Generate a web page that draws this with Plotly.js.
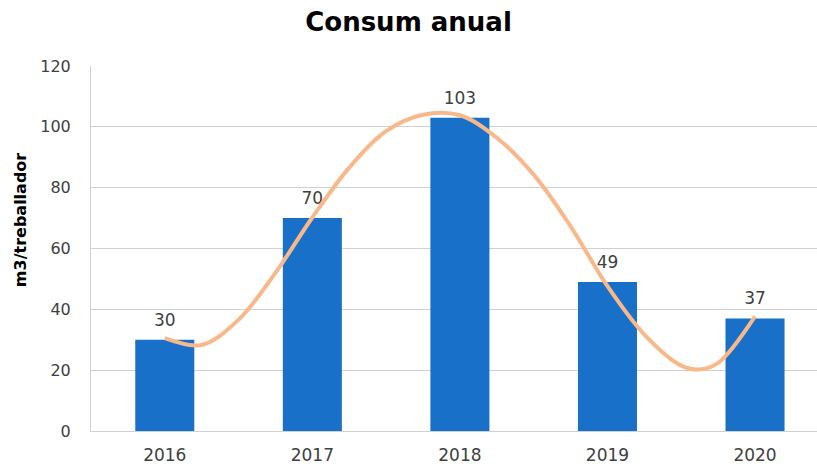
<!DOCTYPE html>
<html>
<head>
<meta charset="utf-8">
<script src="https://cdn.plot.ly/plotly-3.0.1.min.js"></script>
<style>html,body{margin:0;padding:0;background:#fff;}#chart{width:817px;height:468px;}</style>
</head>
<body>
<div id="chart"></div>
<script>
const years = [2016, 2017, 2018, 2019, 2020];
const values = [30, 70, 103, 49, 37];
const tickLabels = ['2016', '2017', '2018', '2019', '2020'];
// trend curve
const curveX = [2016.00, 2016.25, 2016.50, 2016.75, 2017.00, 2017.25, 2017.50, 2017.75, 2018.00, 2018.25, 2018.50, 2018.75, 2019.00, 2019.25, 2019.50, 2019.62, 2019.75, 2020.00];
const curveY = [30.5, 28.3, 36.6, 52, 70.2, 86.6, 98.6, 104, 103.8, 96.4, 84.3, 67.3, 47.6, 31.7, 21.5, 20.2, 22.4, 37.7];

const FONT = 'DejaVu Sans, sans-serif';
const bars = {
  type: 'bar', x: years, y: values, width: 0.4,
  marker: {color: '#1870C8'},
  hoverinfo: 'none'
};
const labels = {
  type: 'scatter', mode: 'markers+text', x: years, y: values,
  marker: {size: 14, opacity: 0},
  text: values.map(String), textposition: 'top center', cliponaxis: false,
  textfont: {family: FONT, size: 17, color: '#404040'},
  hoverinfo: 'none'
};
const curve = {
  type: 'scatter', mode: 'lines', x: curveX, y: curveY,
  line: {color: '#F8B88A', width: 4, shape: 'spline', smoothing: 1},
  hoverinfo: 'none'
};
const layout = {
  width: 817, height: 468,
  margin: {l: 91, r: 0, t: 66, b: 37},
  paper_bgcolor: '#fff', plot_bgcolor: '#fff',
  showlegend: false,
  title: {text: '<b>Consum anual</b>', x: 0.5, xref: 'container', y: 0.953, yref: 'container', yanchor: 'middle',
          font: {family: FONT, size: 26, color: '#000'}},
  xaxis: {range: [2015.5, 2020.42], tickvals: years, ticktext: tickLabels,
          showgrid: false, zeroline: false, showline: true, linecolor: '#d0d0d0', linewidth: 1,
          ticks: 'outside', ticklen: 9, tickcolor: 'rgba(0,0,0,0)',
          tickfont: {family: FONT, size: 17, color: '#404040'}},
  yaxis: {range: [0, 120], dtick: 20, showgrid: true, gridcolor: '#d0d0d0', gridwidth: 1,
          zeroline: false, showline: true, linecolor: '#d0d0d0', linewidth: 1,
          ticks: 'outside', ticklen: 16, tickcolor: 'rgba(0,0,0,0)',
          tickfont: {family: FONT, size: 16, color: '#404040'}},
  annotations: [{text: '<b>m3/treballador</b>', textangle: -90, xref: 'paper', yref: 'paper',
                 x: -0.098, y: 0.58, xanchor: 'center', yanchor: 'middle', showarrow: false,
                 font: {family: FONT, size: 16, color: '#000'}}]
};
Plotly.newPlot('chart', [bars, labels, curve], layout, {displayModeBar: false, staticPlot: true});
</script>
</body>
</html>
